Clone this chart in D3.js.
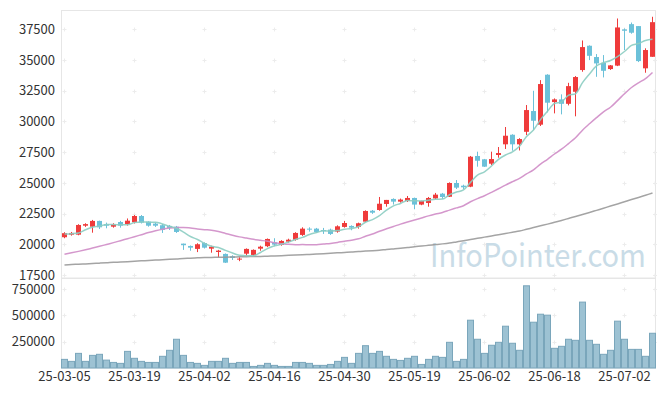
<!DOCTYPE html>
<html>
<head>
<meta charset="utf-8">
<script src="https://cdn.jsdelivr.net/npm/d3@7"></script>
<style>
  body { margin: 0; background: #fff; }
  text { font-family: "Noto Sans CJK KR", "Noto Sans", sans-serif; }
</style>
</head>
<body>
<div id="chart"></div>
<script>
// trading days (yy-mm-dd)
var dates = ["25-03-05","25-03-06","25-03-07","25-03-10","25-03-11","25-03-12","25-03-13","25-03-14","25-03-17","25-03-18",
  "25-03-19","25-03-20","25-03-21","25-03-24","25-03-25","25-03-26","25-03-27","25-03-28","25-03-31","25-04-01",
  "25-04-02","25-04-03","25-04-04","25-04-07","25-04-08","25-04-09","25-04-10","25-04-11","25-04-14","25-04-15",
  "25-04-16","25-04-17","25-04-18","25-04-21","25-04-22","25-04-23","25-04-24","25-04-25","25-04-28","25-04-29",
  "25-04-30","25-05-02","25-05-07","25-05-08","25-05-09","25-05-12","25-05-13","25-05-14","25-05-15","25-05-16",
  "25-05-19","25-05-20","25-05-21","25-05-22","25-05-23","25-05-26","25-05-27","25-05-28","25-05-29","25-05-30",
  "25-06-02","25-06-04","25-06-05","25-06-09","25-06-10","25-06-11","25-06-12","25-06-13","25-06-16","25-06-17",
  "25-06-18","25-06-19","25-06-20","25-06-23","25-06-24","25-06-25","25-06-26","25-06-27","25-06-30","25-07-01",
  "25-07-02","25-07-03","25-07-04","25-07-07","25-07-08"];

var opens = [20570,20780,20780,21510,21430,21900,21640,21430,21810,21650,
  21790,22300,21840,21680,21550,21490,21430,20050,19860,19620,
  20100,19640,19370,19210,19020,18750,19230,19130,19640,19840,
  20160,19940,20210,20370,20760,21270,21270,21160,21190,21030,
  21410,21490,21410,21840,22730,22790,23280,23690,23470,23520,
  23770,23230,23360,23730,24120,23870,24990,24770,24690,27190,
  26920,26560,27270,28140,28920,28140,29160,30850,29740,33810,
  31580,31800,31440,32420,34190,36170,35250,34780,34270,34550,
  37500,37930,37770,34330,35270];

var highs = [20980,21000,21630,21710,21980,21920,21760,21710,21900,22100,
  22380,22380,21870,21760,21650,21570,21490,20050,19900,20080,
  20150,19880,19540,19250,19100,18940,19660,19580,19880,20470,
  20490,20330,20450,20980,21380,21380,21330,21330,21270,21540,
  21900,21540,21760,22760,22790,23850,23610,23740,23720,23930,
  23800,23550,23850,24180,24180,25040,25230,24850,27190,27540,
  26950,27540,27920,29550,28960,28640,31340,32500,33370,33850,
  31880,32210,33150,33700,36600,36200,35490,35410,34600,38390,
  37580,38060,37770,35960,38530];

var lows = [20490,20700,20730,21410,20940,21240,21300,21350,21350,21520,
  21690,21690,21430,21410,20920,21160,20920,19540,19470,19360,
  19650,19310,18940,18470,18720,18620,19050,19050,19470,19760,
  19840,19880,20130,20290,20680,21030,20920,20840,20760,20940,
  21350,21140,21270,21810,22470,22730,23060,23230,23390,23440,
  22850,23180,23060,23660,23690,23850,24500,24500,24650,26320,
  26300,26450,27050,27760,27620,27640,28900,29300,29630,30740,
  30660,30580,31310,30420,34050,35000,33640,33590,34200,34510,
  35820,37150,34840,33970,35270];

var closes = [20900,20920,21570,21640,21900,21380,21510,21600,21510,21920,
  22300,21760,21510,21510,21170,21330,21000,19920,19720,20000,
  19720,19800,19480,18500,18880,18830,19620,19540,19800,20430,
  19970,20270,20370,20920,21270,21190,21000,21060,20840,21460,
  21730,21350,21710,22710,22570,23300,23610,23470,23640,23770,
  23230,23520,23770,24040,23850,24990,24610,24640,27130,26800,
  26320,26940,27430,28840,28140,28570,30930,30060,33050,31530,
  31800,31440,32880,33620,36060,35350,34730,34130,34570,37660,
  37390,37230,34920,35820,38090];

var volumes = [82000,63000,139000,63000,120000,130000,75000,53000,44000,158000,
  92000,63000,53000,53000,111000,168000,273000,120000,53000,44000,
  25000,63000,63000,92000,44000,53000,53000,15000,25000,44000,
  25000,15000,15000,53000,53000,44000,25000,25000,34000,63000,
  101000,44000,139000,212000,139000,158000,111000,82000,72000,92000,
  111000,34000,82000,111000,101000,244000,63000,82000,454000,273000,
  139000,216000,244000,397000,235000,168000,781000,435000,511000,502000,
  187000,206000,273000,263000,626000,263000,225000,130000,168000,445000,
  273000,177000,177000,111000,330000];

// moving averages as drawn
var ma5 = [20840,20860,20920,21180,21390,21480,21600,21610,21580,21580,
  21770,21820,21800,21800,21650,21460,21300,20990,20630,20390,
  20070,19830,19740,19500,19280,19100,19060,19070,19330,19640,
  19870,20000,20170,20390,20560,20800,20950,21090,21070,21110,
  21220,21290,21420,21790,22010,22330,22780,23130,23320,23560,
  23540,23530,23590,23670,23680,24030,24250,24430,25040,25630,
  25900,26370,26920,27270,27530,27980,28780,29310,30150,30830,
  31470,31580,32140,32250,33160,33870,34530,34780,34970,35290,
  35700,36200,36350,36600,36690];

var ma20 = [19185,19300,19420,19550,19690,19830,19980,20130,20290,20450,
  20610,20780,20950,21100,21230,21320,21370,21370,21320,21250,
  21190,21140,21030,20880,20730,20600,20500,20400,20320,20240,
  20120,20050,19990,19960,19970,19960,19960,20020,20070,20150,
  20250,20330,20440,20650,20830,21060,21260,21450,21640,21810,
  21970,22140,22310,22460,22590,22780,22960,23140,23460,23720,
  23950,24230,24520,24820,25100,25370,25730,26060,26530,26920,
  27350,27740,28200,28680,29290,29810,30310,30790,31160,31700,
  32260,32770,33150,33490,33990];

var ma120 = [18310,18350,18370,18400,18430,18460,18490,18530,18550,18580,
  18620,18650,18680,18710,18740,18770,18800,18840,18860,18890,
  18920,18930,18940,18950,18960,18980,18990,19000,19010,19030,
  19050,19070,19100,19120,19140,19170,19200,19230,19270,19300,
  19330,19360,19410,19440,19470,19510,19570,19620,19670,19730,
  19800,19850,19910,19970,20030,20100,20190,20280,20380,20480,
  20580,20680,20770,20870,20980,21080,21220,21360,21500,21640,
  21790,21940,22100,22260,22430,22590,22760,22930,23110,23280,
  23460,23640,23810,23990,24170];

var priceTicks = [17500, 20000, 22500, 25000, 27500, 30000, 32500, 35000, 37500];
var volumeTicks = [250000, 500000, 750000];

// dimensions
var width = 665,
    height = 396;
var left = 61, right = 656;
var priceTop = 11, priceBottom = 278;
var volTop = 278, volBottom = 368;

var upColor = "#ef3b3b",
    downColor = "#6cc1d9";

var svg = d3.select("#chart")
            .append("svg")
            .attr("width", width)
            .attr("height", height);

var idx = d3.range(dates.length);

var xScale = d3.scaleBand()
               .domain(idx)
               .range([left, right])
               .padding(0);
var bw = xScale.bandwidth();
function cx(i) { return xScale(i) + bw / 2; }

var yScale = d3.scaleLinear()
               .domain([17250, 39000])
               .range([priceBottom, priceTop]);
var vScale = d3.scaleLinear()
               .domain([0, 855000])
               .range([volBottom, volTop]);

var xTickIdx = idx.filter(function(i) { return i % 10 === 0; });

// panel frames
svg.append("rect")
   .attr("x", left + 0.5).attr("y", priceTop - 0.5)
   .attr("width", right - left - 1).attr("height", priceBottom - priceTop + 0.5)
   .attr("fill", "none").attr("stroke", "#e6e6e6");
svg.append("rect")
   .attr("x", left + 0.5).attr("y", volTop + 0.5)
   .attr("width", right - left - 1).attr("height", volBottom - volTop - 0.5)
   .attr("fill", "none").attr("stroke", "#e6e6e6");

// grid crosses (faint)
var gridX = xTickIdx.map(cx).concat([right - 1]);
var gridY = priceTicks.map(yScale).concat(volumeTicks.map(vScale));
var crosses = [];
gridX.forEach(function(gx) {
  gridY.forEach(function(gy) { crosses.push([gx, Math.round(gy) + 0.5]); });
});
var grid = svg.append("g").attr("stroke", "#ececec").attr("stroke-width", 1);
grid.selectAll("path")
    .data(crosses)
    .join("path")
    .attr("d", function(d) {
      return "M" + (d[0] - 2) + "," + d[1] + "h4M" + d[0] + "," + (d[1] - 2) + "v4";
    });

// watermark
svg.append("text")
   .attr("x", 430)
   .attr("y", 267)
   .attr("font-size", 32)
   .attr("textLength", 216)
   .attr("lengthAdjust", "spacingAndGlyphs")
   .attr("fill", "#c9dce7")
   .text("InfoPointer.com");

// volume bars
svg.append("g")
   .selectAll("rect")
   .data(idx)
   .join("rect")
   .attr("x", function(i) { return xScale(i) + 0.5; })
   .attr("y", function(i) { return vScale(volumes[i]); })
   .attr("width", bw - 1)
   .attr("height", function(i) { return volBottom - vScale(volumes[i]); })
   .attr("fill", "#9dc2d3")
   .attr("stroke", "#7aa6bb")
   .attr("stroke-width", 1);

// candles
var candles = svg.append("g")
   .selectAll("g")
   .data(idx)
   .join("g")
   .attr("fill", function(i) { return closes[i] >= opens[i] ? upColor : downColor; })
   .attr("stroke", function(i) { return closes[i] >= opens[i] ? upColor : downColor; });
candles.append("line")
   .attr("x1", cx).attr("x2", cx)
   .attr("y1", function(i) { return yScale(highs[i]); })
   .attr("y2", function(i) { return yScale(lows[i]); })
   .attr("stroke-width", 1);
candles.append("rect")
   .attr("x", function(i) { return cx(i) - 2.5; })
   .attr("y", function(i) { return yScale(Math.max(opens[i], closes[i])); })
   .attr("width", 5)
   .attr("height", function(i) {
     return Math.max(1, Math.abs(yScale(opens[i]) - yScale(closes[i])));
   })
   .attr("stroke", "none");

// moving average lines
var lineGen = function(arr) {
  return d3.line()
           .x(function(i) { return cx(i); })
           .y(function(i) { return yScale(arr[i]); })
           .curve(d3.curveMonotoneX)(idx);
};
[[ma120, "#9a9a9a"], [ma20, "#cf8cc7"], [ma5, "#8ccdc2"]].forEach(function(s) {
  svg.append("path")
     .attr("d", lineGen(s[0]))
     .attr("fill", "none")
     .attr("stroke", s[1])
     .attr("stroke-width", 1.5)
     .attr("stroke-opacity", 0.9);
});

// axes
var plain = d3.format("d");
var yAxis = svg.append("g")
   .attr("transform", "translate(" + left + ",0)")
   .call(d3.axisLeft(yScale).tickValues(priceTicks).tickFormat(plain).tickSize(0).tickPadding(6));
var vAxis = svg.append("g")
   .attr("transform", "translate(" + left + ",0)")
   .call(d3.axisLeft(vScale).tickValues(volumeTicks).tickFormat(plain).tickSize(0).tickPadding(6));
var xAxis = svg.append("g")
   .attr("transform", "translate(0," + volBottom + ")")
   .call(d3.axisBottom(xScale).tickValues(xTickIdx)
           .tickFormat(function(i) { return dates[i]; })
           .tickSize(0).tickPadding(4));

[yAxis, vAxis, xAxis].forEach(function(a) {
  a.select(".domain").remove();
  a.selectAll("text")
   .attr("font-size", 13)
   .attr("fill", "#333")
   .style("font-family", "\"Noto Sans CJK KR\", \"Noto Sans\", sans-serif");
});
</script>
</body>
</html>
